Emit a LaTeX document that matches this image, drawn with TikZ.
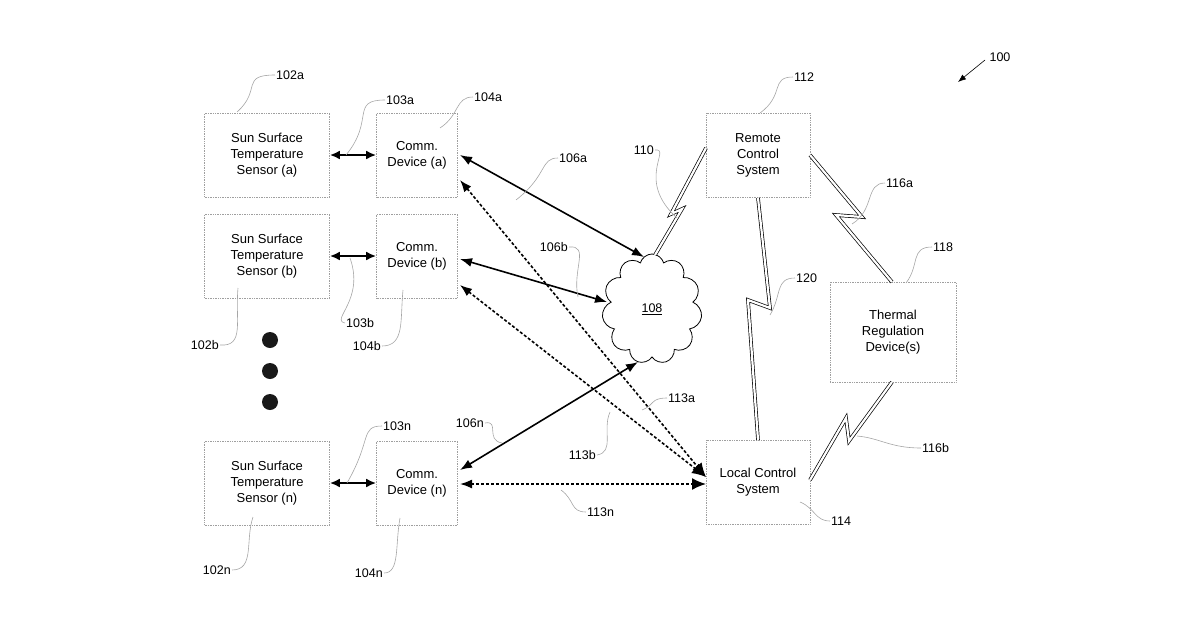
\documentclass[tikz,border=0pt]{standalone}
\usepackage{fontspec}
\setmainfont{Liberation Sans}
\usetikzlibrary{arrows.meta,shapes.symbols,calc}
\begin{document}
\begin{tikzpicture}[x=1pt,y=-1pt,
 box/.style={draw=gray!75,line width=0.7pt,densely dotted,minimum width=#1,align=center,font=\fontsize{13}{16}\selectfont,inner sep=0pt},
 lbl/.style={font=\fontsize{12.5}{14}\selectfont,inner sep=1pt},
 lead/.style={draw=gray!70,line width=0.6pt},
 dbl/.style={line width=2.2pt,{Latex[length=10pt,width=9pt]}-{Latex[length=10pt,width=9pt]}},
 solid2/.style={line width=1.6pt,{Latex[length=12pt,width=9pt]}-{Latex[length=12pt,width=9pt]}},
 dash2/.style={line width=1.6pt,dash pattern=on 3pt off 2pt,{Latex[length=12pt,width=9pt]}-{Latex[length=14pt,width=12pt]}},
 bolt/.style={double=white,draw=black,double distance=2.2pt,line width=0.7pt,line join=miter}]
\useasboundingbox (0,0) rectangle (1200,630);
% boxes
\node[box=125pt,minimum height=84pt] (sa) at (267,155) {Sun Surface\\Temperature\\Sensor (a)};
\node[box=125pt,minimum height=84pt] (sb) at (267,256) {Sun Surface\\Temperature\\Sensor (b)};
\node[box=125pt,minimum height=84pt] (sn) at (267,483) {Sun Surface\\Temperature\\Sensor (n)};
\node[box=81pt,minimum height=84pt] (ca) at (417,155) {Comm.\\Device (a)};
\node[box=81pt,minimum height=84pt] (cb) at (417,256) {Comm.\\Device (b)};
\node[box=81pt,minimum height=84pt] (cn) at (417,483) {Comm.\\Device (n)};
\node[box=104pt,minimum height=84pt] (rc) at (758,155) {Remote\\Control\\System};
\node[box=104pt,minimum height=84pt] (lc) at (758,482) {Local Control\\System};
\node[box=126pt,minimum height=100pt] (tr) at (893,332) {Thermal\\Regulation\\Device(s)};
\node[cloud,cloud puffs=11,draw,line width=0.8pt,minimum width=100pt,minimum height=110pt,aspect=0.9,font=\fontsize{12.5}{14}\selectfont] (cl) at (652,309) {\underline{108}};
% dots
\foreach \y/\n in {340/d1,371/d2,402/d3} \fill[gray!20!black] (270,\y) circle (8pt) coordinate (\n);
% double arrows sensor-comm
\draw[dbl] (sa.east) -- (ca.west);
\draw[dbl] (sb.east) -- (cb.west);
\draw[dbl] (sn.east) -- (cn.west);
% comm-cloud
\coordinate (ca1) at (460,155); \coordinate (cb1) at (460,259); \coordinate (cn1) at (460,470);
\coordinate (ca2) at (460,180); \coordinate (cb2) at (460,285); \coordinate (cn2) at (460,484);
\coordinate (la) at (706,477); \coordinate (ln) at (706,484);
\draw[solid2] (ca1) -- (644,257);
\draw[solid2] (cb1) -- (607,302);
\draw[solid2] (cn1) -- (638,362);
\draw[dash2] (ca2) -- (la);
\draw[dash2] (cb2) -- (la);
\draw[dash2] (cn2) -- (ln);
% bolts
\draw[bolt] (655,255) -- (682,209) -- (671,214) -- (706,148);
\draw[bolt] (758,198) -- (770,308) -- (748,300) -- (758,440);
\draw[bolt] (810,155) -- (862,217) -- (836,215) -- (892,282);
\draw[bolt] (892,382) -- (849,441) -- (846,418) -- (810,480);
% 100 arrow
\draw[line width=0.6pt,-{Latex[length=8pt,width=6pt]}] (985,60) -- (958,82);
\node[lbl] (n100) at (1000,57) {100};
% labels & leaders
\node[lbl,anchor=west] (l102a) at (275,75) {102a};
\draw[lead] (l102a.west) .. controls (240,75) and (262,90) .. (237,112);
\node[lbl,anchor=west] (l103a) at (385,100) {103a};
\draw[lead] (l103a.west) .. controls (350,100) and (375,120) .. (346,155);
\node[lbl,anchor=west] (l104a) at (473,97) {104a};
\draw[lead] (l104a.west) .. controls (455,97) and (460,115) .. (440,128);
\node[lbl,anchor=west] (l106a) at (558,158) {106a};
\draw[lead] (l106a.west) .. controls (540,158) and (548,175) .. (516,200);
\node[lbl,anchor=east] (l110) at (655,150) {110};
\draw[lead] (l110.east) .. controls (672,148) and (635,180) .. (677,218);
\node[lbl,anchor=east] (l106b) at (569,247) {106b};
\draw[lead] (l106b.east) .. controls (590,245) and (572,270) .. (578,297);
\node[lbl,anchor=east] (l102b) at (220,345) {102b};
\draw[lead] (l102b.east) .. controls (245,347) and (235,320) .. (238,288);
\node[lbl,anchor=west] (l103b) at (345,323) {103b};
\draw[lead] (l103b.west) .. controls (330,320) and (365,300) .. (350,258);
\node[lbl,anchor=east] (l104b) at (382,346) {104b};
\draw[lead] (l104b.east) .. controls (405,346) and (400,320) .. (403,290);
\node[lbl,anchor=west] (l112) at (793,77) {112};
\draw[lead] (l112.west) .. controls (770,77) and (785,95) .. (760,113);
\node[lbl,anchor=west] (l116a) at (885,183) {116a};
\draw[lead] (l116a.west) .. controls (865,183) and (875,210) .. (852,224);
\node[lbl,anchor=west] (l118) at (932,247) {118};
\draw[lead] (l118.west) .. controls (910,247) and (920,265) .. (906,283);
\node[lbl,anchor=west] (l120) at (795,278) {120};
\draw[lead] (l120.west) .. controls (775,278) and (782,295) .. (770,315);
\node[lbl,anchor=west] (l113a) at (667,398) {113a};
\draw[lead] (l113a.west) .. controls (650,398) and (655,405) .. (642,410);
\node[lbl,anchor=east] (l113b) at (597,455) {113b};
\draw[lead] (l113b.east) .. controls (615,452) and (602,430) .. (610,412);
\node[lbl,anchor=east] (l106n) at (485,423) {106n};
\draw[lead] (l106n.east) .. controls (500,420) and (485,440) .. (502,443);
\node[lbl,anchor=west] (l103n) at (382,426) {103n};
\draw[lead] (l103n.west) .. controls (360,426) and (372,440) .. (347,483);
\node[lbl,anchor=west] (l113n) at (586,512) {113n};
\draw[lead] (l113n.west) .. controls (570,512) and (575,500) .. (561,490);
\node[lbl,anchor=east] (l102n) at (232,570) {102n};
\draw[lead] (l102n.east) .. controls (255,570) and (245,540) .. (253,517);
\node[lbl,anchor=east] (l104n) at (384,573) {104n};
\draw[lead] (l104n.east) .. controls (400,573) and (395,545) .. (400,518);
\node[lbl,anchor=west] (l116b) at (921,448) {116b};
\draw[lead] (l116b.west) .. controls (890,448) and (880,438) .. (857,436);
\node[lbl,anchor=west] (l114) at (830,521) {114};
\draw[lead] (l114.west) .. controls (815,521) and (815,508) .. (800,502);
\end{tikzpicture}
\end{document}
